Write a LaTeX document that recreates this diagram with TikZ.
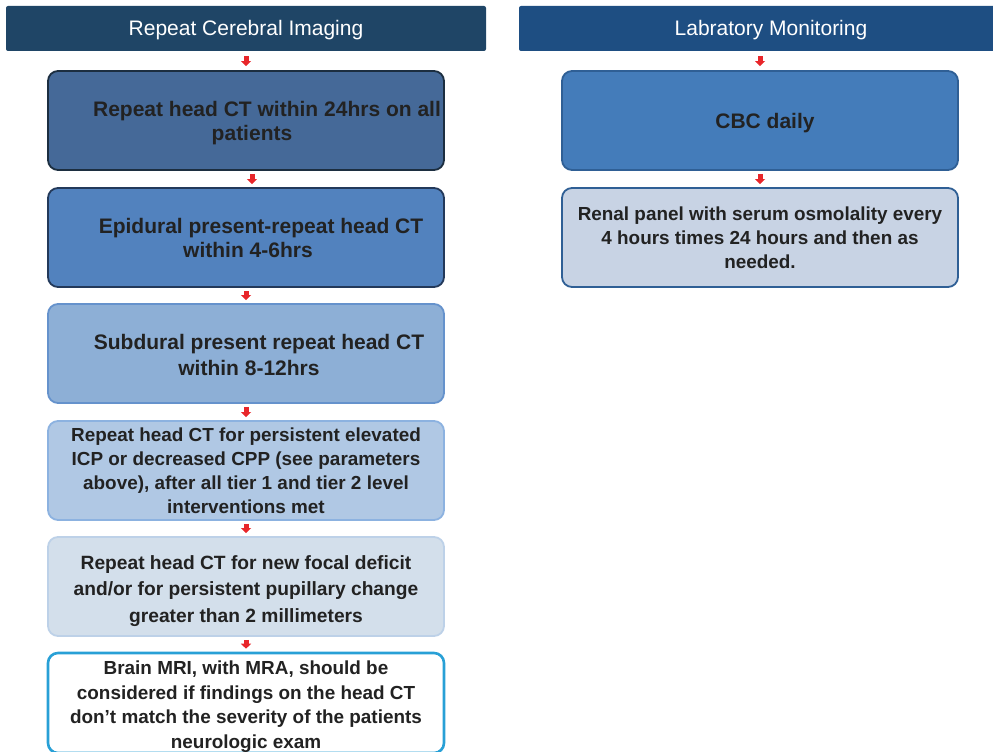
\documentclass[tikz,border=0pt]{standalone}
\usepackage{fontspec}
\setmainfont{Liberation Sans}
\usetikzlibrary{arrows.meta}
\definecolor{hdrL}{HTML}{1F4566}
\definecolor{hdrR}{HTML}{1E4E82}
\definecolor{fA}{HTML}{456998}
\definecolor{dA}{HTML}{1C2E40}
\definecolor{fB}{HTML}{5282BE}
\definecolor{dB}{HTML}{23395A}
\definecolor{fC}{HTML}{8DAFD6}
\definecolor{dC}{HTML}{6592CC}
\definecolor{fD}{HTML}{B0C8E4}
\definecolor{dD}{HTML}{8CB2E0}
\definecolor{fE}{HTML}{D3DFEB}
\definecolor{dE}{HTML}{BDD1E8}
\definecolor{dF}{HTML}{28A0D6}
\definecolor{fR}{HTML}{447CBA}
\definecolor{dR}{HTML}{2F5F95}
\definecolor{fS}{HTML}{C8D3E4}
\definecolor{txt}{HTML}{222222}
\definecolor{arr}{HTML}{E8262A}
\newcommand{\boxtext}[2]{\raisebox{-#1}[\height][\depth]{\begin{tabular}{@{}c@{}}#2\end{tabular}}}
\begin{document}
\begin{tikzpicture}[x=1pt,y=-1pt,
  box/.style={rounded corners=10pt, line width=1.8pt, minimum width=396pt,
    minimum height=99pt, text=txt, inner sep=0pt,
    font=\fontsize{21}{24}\selectfont\bfseries},
  small/.style={font=\fontsize{18.9}{24}\selectfont\bfseries},
  hdr/.style={rounded corners=2pt, text=white, minimum height=45pt, inner sep=0pt,
    text height=15pt, text depth=0pt, font=\fontsize{21}{24}\selectfont},
  conn/.style={draw=arr, line width=5pt, -{Triangle[width=10pt,length=5pt]},
    shorten <=3pt, shorten >=3pt}]
\useasboundingbox (0,0) rectangle (993,752);
\clip (0,0) rectangle (993,752);
% headers
\node[hdr, fill=hdrL, minimum width=480pt] (hL) at (246,28.5) {Repeat Cerebral Imaging};
\node[hdr, fill=hdrR, minimum width=504pt] (hR) at (771,28.5) {Labratory Monitoring};
% left column
\node[box, fill=fA, draw=dA] (b1) at (246,120.5)
  {\boxtext{3.5pt}{\hspace*{42pt}Repeat head CT within 24hrs on all\\\hspace*{12pt}patients}};
\node[box, fill=fB, draw=dB] (b2) at (246,237.5)
  {\boxtext{3pt}{\hspace*{30pt}Epidural present-repeat head CT\\\hspace*{4pt}within 4-6hrs}};
\node[box, fill=fC, draw=dC, font=\fontsize{21}{26}\selectfont\bfseries] (b3) at (246,353.5)
  {\boxtext{4pt}{\hspace*{26pt}Subdural present repeat head CT\\\hspace*{6pt}within 8-12hrs}};
\node[box, small, fill=fD, draw=dD] (b4) at (246,470.5)
  {\boxtext{2pt}{Repeat head CT for persistent elevated\\ICP or decreased CPP (see parameters\\above), after all tier 1 and tier 2 level\\interventions met}};
\node[box, fill=fE, draw=dE, font=\fontsize{19.2}{26.5}\selectfont\bfseries] (b5) at (246,586.5)
  {\boxtext{4pt}{Repeat head CT for new focal deficit\\and/or for persistent pupillary change\\greater than 2 millimeters}};
\node[box, fill=white, draw=dF, line width=2.6pt, minimum height=100pt,
  font=\fontsize{18.9}{24.5}\selectfont\bfseries] (b6) at (246,703)
  {\boxtext{3.5pt}{Brain MRI, with MRA, should be\\considered if findings on the head CT\\don't match the severity of the patients\\neurologic exam}};
% right column
\node[box, fill=fR, draw=dR] (r1) at (760,120.5) {\boxtext{3pt}{\hspace*{10pt}CBC daily}};
\node[box, small, fill=fS, draw=dR] (r2) at (760,237.5)
  {\boxtext{2pt}{Renal panel with serum osmolality every\\4 hours times 24 hours and then as\\needed.}};
% connectors
\draw[conn, shorten <=5pt, shorten >=4pt] (hL) -- (b1);
\draw[conn] ([xshift=6pt]b1.south) -- ([xshift=6pt]b2.north);
\draw[conn] (b2) -- (b3);
\draw[conn] (b3) -- (b4);
\draw[conn] (b4) -- (b5);
\draw[conn] (b5) -- (b6);
\draw[conn, shorten <=5pt, shorten >=4pt] (hR.south -| r1.south) -- (r1);
\draw[conn] (r1) -- (r2);
\end{tikzpicture}
\end{document}
